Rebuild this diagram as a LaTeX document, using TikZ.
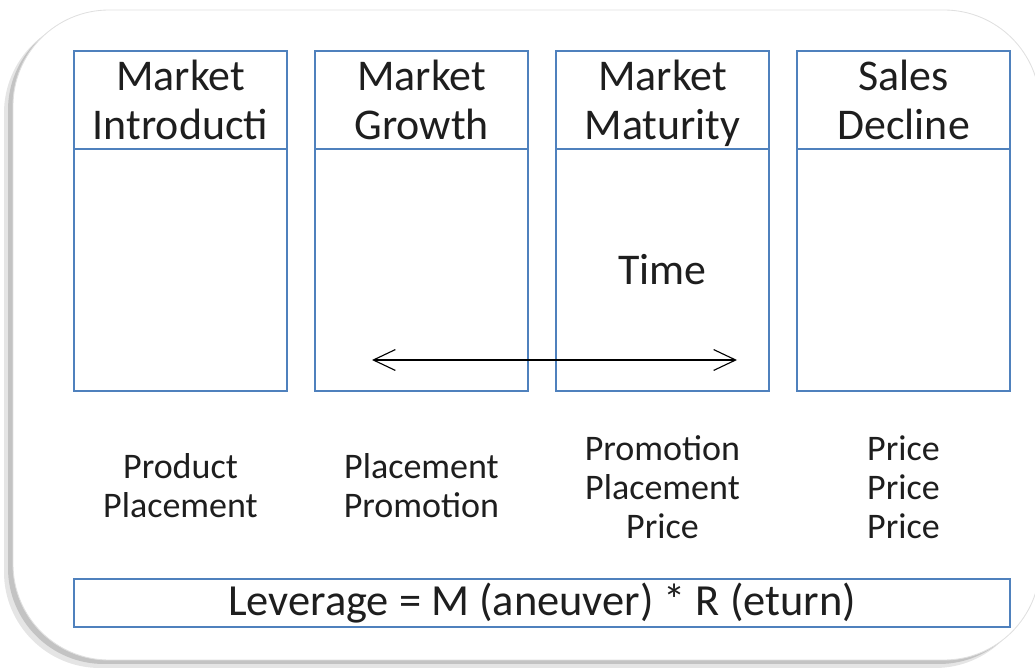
\documentclass[tikz,border=0pt]{standalone}
\usepackage{fontspec}
\setmainfont{Carlito}
\usetikzlibrary{positioning,arrows.meta}
\definecolor{boxblue}{RGB}{79,129,189}
\definecolor{inkgray}{RGB}{30,30,30}

\tikzset{
  stagehead/.style={draw=boxblue,line width=1.1pt,minimum width=5.325cm,minimum height=2.45cm,
    inner sep=0pt,outer sep=0pt,align=center,text=inkgray,font=\fontsize{31.2}{34.7}\selectfont},
  stagebody/.style={draw=boxblue,line width=1.1pt,minimum width=5.325cm,minimum height=6.05cm,
    inner sep=0pt,outer sep=0pt},
  mixtext/.style={align=center,text=inkgray,font=\fontsize{25.6}{27.7}\selectfont},
}

\begin{document}
\begin{tikzpicture}[x=0.025cm,y=-0.025cm]
\useasboundingbox (0,0) rectangle (1035,668);
% card and its shadow
\fill[black,opacity=0.10,rounded corners=2.4cm] (4,17) rectangle (1031,668);
\fill[black,opacity=0.15,rounded corners=2.4cm] (8,14) rectangle (1035,664);
\filldraw[fill=white,draw=black!12,line width=0.6pt,rounded corners=2.4cm] (13,10) rectangle (1040,660);
% stage headers
\node[stagehead] (intro) at (180.5,100) {Market\\Introducti};
\node[stagehead,right=0.7cm of intro] (growth) {Market\\Growth};
\node[stagehead,right=0.7cm of growth] (mature) {Market\\\smash{Maturity}};
\node[stagehead,right=0.7cm of mature] (decline) {Sales\\Decline};
% stage bodies
\node[stagebody,below=0pt of intro] (introbody) {};
\node[stagebody,below=0pt of growth] (growthbody) {};
\node[stagebody,below=0pt of mature] (maturebody) {};
\node[stagebody,below=0pt of decline] (declinebody) {};
% time axis
\node[text=inkgray,font=\fontsize{31.2}{34.7}\selectfont] (time) at (662.5,270) {Time};
\coordinate (tleft) at (372,360);
\coordinate (tright) at (737,360);
\draw[{Straight Barb[length=0.55cm,width=0.52cm]}-{Straight Barb[length=0.55cm,width=0.52cm]},line width=0.8pt] (tleft) -- (tright);
% marketing mix per stage
\node[mixtext] (mixintro) at (180.5,485.5) {Product\\Placement};
\node[mixtext] (mixgrowth) at (421.5,485.5) {Placement\\Promotion};
\node[mixtext] (mixmature) at (662.5,487) {Promotion\\Placement\\Price};
\node[mixtext] (mixdecline) at (903.5,487) {Price\\Price\\Price};
% leverage
\node[draw=boxblue,line width=1.1pt,minimum width=23.4cm,minimum height=1.2cm,inner sep=0pt,
  text=inkgray,font=\fontsize{31.6}{34.7}\selectfont] (leverage) at (542,603) {Leverage = M (aneuver) * R (eturn)};
\end{tikzpicture}
\end{document}
